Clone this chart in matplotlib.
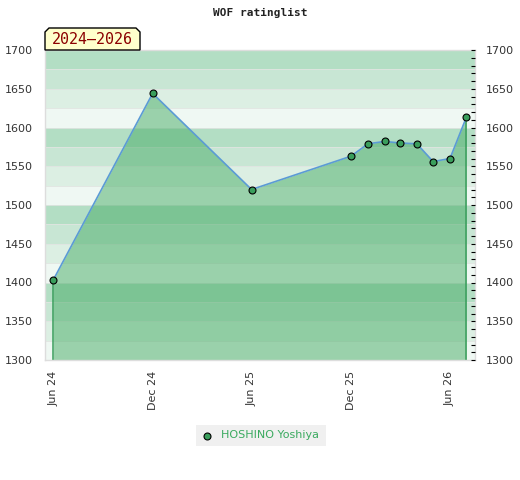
import matplotlib
matplotlib.use("Agg")
import matplotlib.pyplot as plt
import matplotlib.dates as mdates
from matplotlib.patches import Polygon, Rectangle
from matplotlib.lines import Line2D
import numpy as np
import pandas as pd

# ---- data ----
title = "WOF ratinglist"
period_label = "2024\u20132026"
player = "HOSHINO Yoshiya"
dates = ["2024-06-01", "2024-12-01", "2025-06-01", "2025-12-01", "2026-01-01",
         "2026-02-01", "2026-03-01", "2026-04-01", "2026-05-01", "2026-06-01",
         "2026-07-01"]
ratings = [1403, 1644, 1520, 1563, 1579, 1582, 1580, 1579, 1556, 1560, 1613]
tick_dates = ["2024-06-01", "2024-12-01", "2025-06-01", "2025-12-01", "2026-06-01"]
tick_labels = ["Jun 24", "Dec 24", "Jun 25", "Dec 25", "Jun 26"]
y_min, y_max = 1300, 1700

W, H = 520, 480
fig = plt.figure(figsize=(W / 100, H / 100), dpi=100)
plt.rcParams['font.family'] = ['DejaVu Sans']

def fx(px):
    return px / W

def fy(py):
    return 1 - py / H

left, right, top, bottom = 45, 475, 50, 360
ax = fig.add_axes([fx(left), fy(bottom), (right - left) / W, (bottom - top) / H])

d = pd.to_datetime(dates)
td = pd.to_datetime(tick_dates)

# background bands
band_cols = ['#b3dec4', '#c8e6d4', '#dcefe3', '#eff8f3']
k = 0
yv = y_max
while yv > y_min:
    ax.axhspan(yv - 25, yv, color=band_cols[k % 4], lw=0, zorder=0)
    if yv < y_max:
        ax.axhline(yv, color='#e0e4e1', lw=0.6, zorder=0.5)
    yv -= 25
    k += 1

ax.fill_between(d, ratings, y_min, color='#46ac65', alpha=0.5, lw=0, zorder=1)
ax.vlines([d[0], d[-1]], y_min, [ratings[0], ratings[-1]], color='#3a9e5c', lw=1.1, zorder=2)
ax.plot(d, ratings, color='#5b9bd5', lw=1.2, zorder=3)
ax.plot(d, ratings, 'o', ms=5, mfc='#3a9e5c', mec='black', mew=0.8, zorder=4, ls='none')

ax.set_xlim(d[0] - pd.Timedelta(days=15), d[-1] + pd.Timedelta(days=16))
ax.set_ylim(y_min, y_max)
ax.set_xticks(td)
ax.set_xticklabels(tick_labels, rotation=90, fontsize=8, color='#333333')
ax.set_yticks(np.arange(y_min, y_max + 1, 50))
ax.tick_params(axis='x', length=0, pad=8)
ax.tick_params(axis='y', length=0, pad=9, labelsize=8, labelcolor='#333333')
for s in ax.spines.values():
    s.set_color('#dddddd')
    s.set_linewidth(1)

ax2 = ax.twinx()
ax2.set_ylim(y_min, y_max)
ax2.set_yticks(np.arange(y_min, y_max + 1, 50))
ax2.set_yticks(np.arange(y_min, y_max + 1, 10), minor=True)
ax2.tick_params(axis='y', which='both', direction='in', length=3, width=0.8,
                color='black', pad=8, labelsize=8, labelcolor='#333333')
for s in ax2.spines.values():
    s.set_visible(False)

# title
fig.text(0.5, fy(13), title, family='DejaVu Sans Mono', weight='bold', size=8,
         ha='center', va='center', color='#222222')

# period box with chamfered top corners
x0, x1, y0, y1, c = 45, 140, 28, 50, 4
pts = [(x0, y1), (x0, y0 + c), (x0 + c, y0), (x1 - c, y0), (x1, y0 + c), (x1, y1)]
fig.patches.append(Polygon([(fx(a), fy(b)) for a, b in pts], closed=True,
                           transform=fig.transFigure, facecolor='#ffffcc',
                           edgecolor='black', lw=1, zorder=5))
fig.text(fx((x0 + x1) / 2), fy(40), period_label, family='DejaVu Sans Mono', size=10.8,
         color='#8b0000', ha='center', va='center', zorder=6)

# legend
fig.patches.append(Rectangle((fx(196), fy(446)), 130 / W, 21 / H, transform=fig.transFigure,
                             facecolor='#f0f0f0', edgecolor='none', zorder=1))
fig.lines.append(Line2D([fx(207)], [fy(435.5)], transform=fig.transFigure, marker='o', ms=5,
                        mfc='#3a9e5c', mec='black', mew=0.8, ls='none'))
fig.text(fx(221), fy(435.5), player, size=8, color='#3aaa5f', ha='left', va='center')

fig.savefig("out.png", dpi=100)
